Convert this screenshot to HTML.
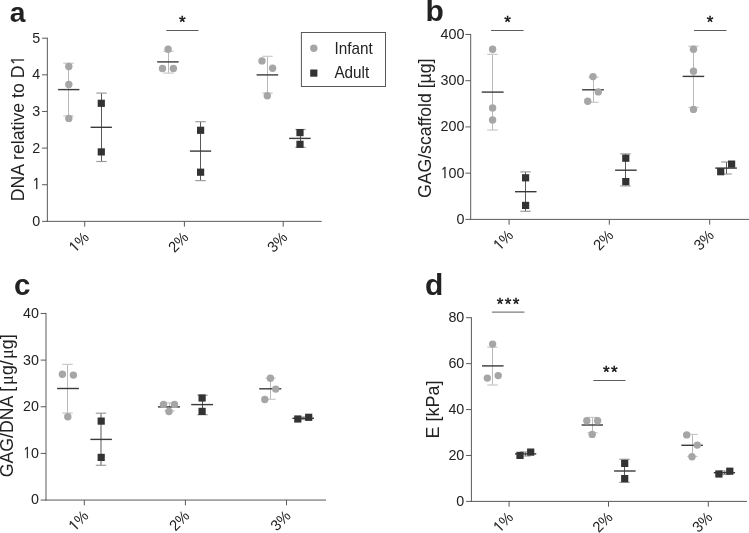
<!DOCTYPE html>
<html lang="en">
<head>
<meta charset="utf-8">
<title>Figure: DNA, GAG and modulus of infant vs adult scaffolds</title>
<style>
html,body{margin:0;padding:0;background:#fff;}
body{width:749px;height:533px;overflow:hidden;}
svg{display:block;font-family:"Liberation Sans",Arial,Helvetica,sans-serif;}
</style>
</head>
<body>
<svg width="749" height="533" viewBox="0 0 749 533">
<rect x="0" y="0" width="749" height="533" fill="#fff"/>
<g id="panel-a">
<text transform="translate(9.8,21.8) scale(1,1)" font-size="28.2" text-anchor="start" font-weight="bold" fill="#222">a</text>
<text transform="translate(23.7,128.4) rotate(-90) scale(1,1.04)" font-size="17.7" text-anchor="middle" fill="#222">DNA relative to D<tspan font-family="NanumGothic, Liberation Sans, sans-serif" font-size="16.39" stroke="#222" stroke-width="0.3">1</tspan></text>
<line x1="47.35" y1="37.7" x2="47.35" y2="221.85" stroke="#5a5a5a" stroke-width="1"/>
<line x1="46.85" y1="221.35" x2="321.7" y2="221.35" stroke="#5a5a5a" stroke-width="1"/>
<line x1="42.05" y1="38.2" x2="47.35" y2="38.2" stroke="#5a5a5a" stroke-width="1"/>
<text transform="translate(40.25,42.62) scale(1,1.04)" font-size="14.3" text-anchor="end" font-weight="normal" fill="#222">5</text>
<line x1="42.05" y1="74.83" x2="47.35" y2="74.83" stroke="#5a5a5a" stroke-width="1"/>
<text transform="translate(40.25,79.25) scale(1,1.04)" font-size="14.3" text-anchor="end" font-weight="normal" fill="#222">4</text>
<line x1="42.05" y1="111.46" x2="47.35" y2="111.46" stroke="#5a5a5a" stroke-width="1"/>
<text transform="translate(40.25,115.88) scale(1,1.04)" font-size="14.3" text-anchor="end" font-weight="normal" fill="#222">3</text>
<line x1="42.05" y1="148.09" x2="47.35" y2="148.09" stroke="#5a5a5a" stroke-width="1"/>
<text transform="translate(40.25,152.51) scale(1,1.04)" font-size="14.3" text-anchor="end" font-weight="normal" fill="#222">2</text>
<line x1="42.05" y1="184.72" x2="47.35" y2="184.72" stroke="#5a5a5a" stroke-width="1"/>
<text transform="translate(40.25,189.14) scale(1,1.04)" font-size="14.3" text-anchor="end" font-weight="normal" fill="#222"><tspan font-family="NanumGothic, Liberation Sans, sans-serif" font-size="13.24" stroke="#222" stroke-width="0.3">1</tspan></text>
<line x1="42.05" y1="221.35" x2="47.35" y2="221.35" stroke="#5a5a5a" stroke-width="1"/>
<text transform="translate(40.25,225.77) scale(1,1.04)" font-size="14.3" text-anchor="end" font-weight="normal" fill="#222">0</text>
<line x1="84.7" y1="221.35" x2="84.7" y2="226.65" stroke="#5a5a5a" stroke-width="1"/>
<text transform="translate(89.8,238.25) rotate(-45) scale(1,1.04)" font-size="14.600000000000001" text-anchor="end" fill="#222"><tspan font-family="NanumGothic, Liberation Sans, sans-serif" font-size="13.52" stroke="#222" stroke-width="0.3">1</tspan>%</text>
<line x1="184.4" y1="221.35" x2="184.4" y2="226.65" stroke="#5a5a5a" stroke-width="1"/>
<text transform="translate(189.5,238.25) rotate(-45) scale(1,1.04)" font-size="14.600000000000001" text-anchor="end" fill="#222">2%</text>
<line x1="283.2" y1="221.35" x2="283.2" y2="226.65" stroke="#5a5a5a" stroke-width="1"/>
<text transform="translate(288.3,238.25) rotate(-45) scale(1,1.04)" font-size="14.600000000000001" text-anchor="end" fill="#222">3%</text>
<line x1="68.5" y1="63.2" x2="68.5" y2="116" stroke="#b9b9b9" stroke-width="1"/>
<line x1="63.3" y1="63.2" x2="73.7" y2="63.2" stroke="#c9c9c9" stroke-width="1.2"/>
<line x1="63.3" y1="116" x2="73.7" y2="116" stroke="#c9c9c9" stroke-width="1.2"/>
<line x1="58.1" y1="89.6" x2="79.4" y2="89.6" stroke="#3a3a3a" stroke-width="1.4"/>
<circle cx="68.8" cy="66.5" r="3.7" fill="#a6a6a6"/>
<circle cx="68.8" cy="84.5" r="3.7" fill="#a6a6a6"/>
<circle cx="68.8" cy="118.4" r="3.7" fill="#a6a6a6"/>
<line x1="101.5" y1="93.1" x2="101.5" y2="161.5" stroke="#595959" stroke-width="1"/>
<line x1="96.3" y1="93.1" x2="106.7" y2="93.1" stroke="#9c9c9c" stroke-width="1.2"/>
<line x1="96.3" y1="161.5" x2="106.7" y2="161.5" stroke="#9c9c9c" stroke-width="1.2"/>
<line x1="90.6" y1="127.3" x2="111.9" y2="127.3" stroke="#3a3a3a" stroke-width="1.4"/>
<rect x="97.7" y="99.7" width="7.2" height="7.2" fill="#333"/>
<rect x="97.7" y="148.3" width="7.2" height="7.2" fill="#333"/>
<line x1="168.5" y1="51.3" x2="168.5" y2="73.1" stroke="#b9b9b9" stroke-width="1"/>
<line x1="163.3" y1="51.3" x2="173.7" y2="51.3" stroke="#c9c9c9" stroke-width="1.2"/>
<line x1="163.3" y1="73.1" x2="173.7" y2="73.1" stroke="#c9c9c9" stroke-width="1.2"/>
<line x1="157.2" y1="61.9" x2="178.7" y2="61.9" stroke="#3a3a3a" stroke-width="1.4"/>
<circle cx="168.1" cy="49.2" r="3.7" fill="#a6a6a6"/>
<circle cx="162.5" cy="68.5" r="3.7" fill="#a6a6a6"/>
<circle cx="173.4" cy="68.5" r="3.7" fill="#a6a6a6"/>
<line x1="200.5" y1="121.7" x2="200.5" y2="180.6" stroke="#595959" stroke-width="1"/>
<line x1="195.3" y1="121.7" x2="205.7" y2="121.7" stroke="#9c9c9c" stroke-width="1.2"/>
<line x1="195.3" y1="180.6" x2="205.7" y2="180.6" stroke="#9c9c9c" stroke-width="1.2"/>
<line x1="189.9" y1="151.1" x2="211.2" y2="151.1" stroke="#3a3a3a" stroke-width="1.4"/>
<rect x="197" y="126.7" width="7.2" height="7.2" fill="#333"/>
<rect x="197" y="168.6" width="7.2" height="7.2" fill="#333"/>
<line x1="267.5" y1="56.3" x2="267.5" y2="93.1" stroke="#b9b9b9" stroke-width="1"/>
<line x1="262.3" y1="56.3" x2="272.7" y2="56.3" stroke="#c9c9c9" stroke-width="1.2"/>
<line x1="262.3" y1="93.1" x2="272.7" y2="93.1" stroke="#c9c9c9" stroke-width="1.2"/>
<line x1="256.6" y1="74.9" x2="278.2" y2="74.9" stroke="#3a3a3a" stroke-width="1.4"/>
<circle cx="262" cy="60.9" r="3.7" fill="#a6a6a6"/>
<circle cx="272.6" cy="68.3" r="3.7" fill="#a6a6a6"/>
<circle cx="267.3" cy="95.7" r="3.7" fill="#a6a6a6"/>
<line x1="300.5" y1="129.5" x2="300.5" y2="147.3" stroke="#595959" stroke-width="1"/>
<line x1="295.3" y1="129.5" x2="305.7" y2="129.5" stroke="#9c9c9c" stroke-width="1.2"/>
<line x1="295.3" y1="147.3" x2="305.7" y2="147.3" stroke="#9c9c9c" stroke-width="1.2"/>
<line x1="289.1" y1="138.4" x2="310.7" y2="138.4" stroke="#3a3a3a" stroke-width="1.4"/>
<rect x="296.4" y="129" width="7.2" height="7.2" fill="#333"/>
<rect x="296.4" y="140.7" width="7.2" height="7.2" fill="#333"/>
<line x1="166.3" y1="30.5" x2="198.5" y2="30.5" stroke="#5c5c5c" stroke-width="1.0"/>
<text transform="translate(183,27.99) scale(1,1)" font-size="17" text-anchor="middle" font-weight="normal" fill="#111" letter-spacing="1.4" stroke="#111" stroke-width="0.4">*</text>
<rect x="301.4" y="32.5" width="84.1" height="54" fill="#fff" stroke="#585858" stroke-width="1"/>
<circle cx="313.8" cy="48.2" r="3.7" fill="#a6a6a6"/>
<rect x="310.2" y="69.5" width="7.2" height="7.2" fill="#333"/>
<text transform="translate(334.4,53.6) scale(1,1.04)" font-size="15.3" text-anchor="start" font-weight="normal" fill="#222">Infant</text>
<text transform="translate(334.4,78.2) scale(1,1.04)" font-size="15.3" text-anchor="start" font-weight="normal" fill="#222">Adult</text>
</g>
<g id="panel-b">
<text transform="translate(425.4,21.2) scale(1,1)" font-size="30" text-anchor="start" font-weight="bold" fill="#222">b</text>
<text transform="translate(431.2,128.3) rotate(-90) scale(1,1.04)" font-size="17.7" text-anchor="middle" fill="#222">GAG/scaffold [µg]</text>
<line x1="470.7" y1="33.95" x2="470.7" y2="219.9" stroke="#5a5a5a" stroke-width="1"/>
<line x1="470.2" y1="219.4" x2="749.5" y2="219.4" stroke="#5a5a5a" stroke-width="1"/>
<line x1="465.4" y1="34.45" x2="470.7" y2="34.45" stroke="#5a5a5a" stroke-width="1"/>
<text transform="translate(464.4,38.87) scale(1,1.04)" font-size="14.3" text-anchor="end" font-weight="normal" fill="#222">400</text>
<line x1="465.4" y1="80.69" x2="470.7" y2="80.69" stroke="#5a5a5a" stroke-width="1"/>
<text transform="translate(464.4,85.11) scale(1,1.04)" font-size="14.3" text-anchor="end" font-weight="normal" fill="#222">300</text>
<line x1="465.4" y1="126.92" x2="470.7" y2="126.92" stroke="#5a5a5a" stroke-width="1"/>
<text transform="translate(464.4,131.34) scale(1,1.04)" font-size="14.3" text-anchor="end" font-weight="normal" fill="#222">200</text>
<line x1="465.4" y1="173.16" x2="470.7" y2="173.16" stroke="#5a5a5a" stroke-width="1"/>
<text transform="translate(464.4,177.58) scale(1,1.04)" font-size="14.3" text-anchor="end" font-weight="normal" fill="#222"><tspan font-family="NanumGothic, Liberation Sans, sans-serif" font-size="13.24" stroke="#222" stroke-width="0.3">1</tspan>00</text>
<line x1="465.4" y1="219.4" x2="470.7" y2="219.4" stroke="#5a5a5a" stroke-width="1"/>
<text transform="translate(464.4,223.82) scale(1,1.04)" font-size="14.3" text-anchor="end" font-weight="normal" fill="#222">0</text>
<line x1="509.1" y1="219.4" x2="509.1" y2="224.7" stroke="#5a5a5a" stroke-width="1"/>
<text transform="translate(514.2,236.3) rotate(-45) scale(1,1.04)" font-size="14.600000000000001" text-anchor="end" fill="#222"><tspan font-family="NanumGothic, Liberation Sans, sans-serif" font-size="13.52" stroke="#222" stroke-width="0.3">1</tspan>%</text>
<line x1="609.3" y1="219.4" x2="609.3" y2="224.7" stroke="#5a5a5a" stroke-width="1"/>
<text transform="translate(614.4,236.3) rotate(-45) scale(1,1.04)" font-size="14.600000000000001" text-anchor="end" fill="#222">2%</text>
<line x1="709.7" y1="219.4" x2="709.7" y2="224.7" stroke="#5a5a5a" stroke-width="1"/>
<text transform="translate(714.8,236.3) rotate(-45) scale(1,1.04)" font-size="14.600000000000001" text-anchor="end" fill="#222">3%</text>
<line x1="492.5" y1="54.3" x2="492.5" y2="130" stroke="#b9b9b9" stroke-width="1"/>
<line x1="487.3" y1="54.3" x2="497.7" y2="54.3" stroke="#c9c9c9" stroke-width="1.2"/>
<line x1="487.3" y1="130" x2="497.7" y2="130" stroke="#c9c9c9" stroke-width="1.2"/>
<line x1="481.7" y1="92.1" x2="503.6" y2="92.1" stroke="#3a3a3a" stroke-width="1.4"/>
<circle cx="492.6" cy="49.2" r="3.7" fill="#a6a6a6"/>
<circle cx="492.6" cy="107.9" r="3.7" fill="#a6a6a6"/>
<circle cx="492.6" cy="120" r="3.7" fill="#a6a6a6"/>
<line x1="525.5" y1="171.9" x2="525.5" y2="211.3" stroke="#595959" stroke-width="1"/>
<line x1="520.3" y1="171.9" x2="530.7" y2="171.9" stroke="#9c9c9c" stroke-width="1.2"/>
<line x1="520.3" y1="211.3" x2="530.7" y2="211.3" stroke="#9c9c9c" stroke-width="1.2"/>
<line x1="515" y1="191.7" x2="536.5" y2="191.7" stroke="#3a3a3a" stroke-width="1.4"/>
<rect x="522" y="174.2" width="7.2" height="7.2" fill="#333"/>
<rect x="522" y="201.8" width="7.2" height="7.2" fill="#333"/>
<line x1="593.5" y1="77.3" x2="593.5" y2="102.3" stroke="#b9b9b9" stroke-width="1"/>
<line x1="588.3" y1="77.3" x2="598.7" y2="77.3" stroke="#c9c9c9" stroke-width="1.2"/>
<line x1="588.3" y1="102.3" x2="598.7" y2="102.3" stroke="#c9c9c9" stroke-width="1.2"/>
<line x1="582.1" y1="89.8" x2="603.9" y2="89.8" stroke="#3a3a3a" stroke-width="1.4"/>
<circle cx="593" cy="76.6" r="3.7" fill="#a6a6a6"/>
<circle cx="598.3" cy="91.9" r="3.7" fill="#a6a6a6"/>
<circle cx="587.7" cy="101.3" r="3.7" fill="#a6a6a6"/>
<line x1="625.5" y1="153.9" x2="625.5" y2="185.9" stroke="#595959" stroke-width="1"/>
<line x1="620.3" y1="153.9" x2="630.7" y2="153.9" stroke="#9c9c9c" stroke-width="1.2"/>
<line x1="620.3" y1="185.9" x2="630.7" y2="185.9" stroke="#9c9c9c" stroke-width="1.2"/>
<line x1="615.1" y1="170.2" x2="636.7" y2="170.2" stroke="#3a3a3a" stroke-width="1.4"/>
<rect x="622.2" y="154.6" width="7.2" height="7.2" fill="#333"/>
<rect x="622.2" y="178" width="7.2" height="7.2" fill="#333"/>
<line x1="693.5" y1="46.2" x2="693.5" y2="107.4" stroke="#b9b9b9" stroke-width="1"/>
<line x1="688.3" y1="46.2" x2="698.7" y2="46.2" stroke="#c9c9c9" stroke-width="1.2"/>
<line x1="688.3" y1="107.4" x2="698.7" y2="107.4" stroke="#c9c9c9" stroke-width="1.2"/>
<line x1="682.6" y1="76.4" x2="704.2" y2="76.4" stroke="#3a3a3a" stroke-width="1.4"/>
<circle cx="693.5" cy="49.2" r="3.7" fill="#a6a6a6"/>
<circle cx="693.5" cy="71.3" r="3.7" fill="#a6a6a6"/>
<circle cx="693.5" cy="109.4" r="3.7" fill="#a6a6a6"/>
<line x1="726.5" y1="162" x2="726.5" y2="174" stroke="#595959" stroke-width="1"/>
<line x1="721.3" y1="162" x2="731.7" y2="162" stroke="#9c9c9c" stroke-width="1.2"/>
<line x1="721.3" y1="174" x2="731.7" y2="174" stroke="#9c9c9c" stroke-width="1.2"/>
<line x1="715.3" y1="168.1" x2="736.9" y2="168.1" stroke="#3a3a3a" stroke-width="1.4"/>
<rect x="717.1" y="168.1" width="7.2" height="7.2" fill="#333"/>
<rect x="728" y="160.5" width="7.2" height="7.2" fill="#333"/>
<line x1="491.1" y1="30.5" x2="523.6" y2="30.5" stroke="#5c5c5c" stroke-width="1.0"/>
<text transform="translate(508.3,27.99) scale(1,1)" font-size="17" text-anchor="middle" font-weight="normal" fill="#111" letter-spacing="1.4" stroke="#111" stroke-width="0.4">*</text>
<line x1="694" y1="30.5" x2="726.5" y2="30.5" stroke="#5c5c5c" stroke-width="1.0"/>
<text transform="translate(710.7,27.99) scale(1,1)" font-size="17" text-anchor="middle" font-weight="normal" fill="#111" letter-spacing="1.4" stroke="#111" stroke-width="0.4">*</text>
</g>
<g id="panel-c">
<text transform="translate(13.9,294.6) scale(1,1)" font-size="29.5" text-anchor="start" font-weight="bold" fill="#222">c</text>
<text transform="translate(12.9,405.8) rotate(-90) scale(1,1.04)" font-size="17.7" text-anchor="middle" fill="#222">GAG/DNA [<tspan dx="1.8" font-family="Liberation Serif, serif" font-size="18.5">μ</tspan>g/<tspan dx="1.2" font-family="Liberation Serif, serif" font-size="18.5">μ</tspan>g]</text>
<line x1="46" y1="312.95" x2="46" y2="500.55" stroke="#5a5a5a" stroke-width="1"/>
<line x1="45.5" y1="500.05" x2="326" y2="500.05" stroke="#5a5a5a" stroke-width="1"/>
<line x1="40.7" y1="313.45" x2="46" y2="313.45" stroke="#5a5a5a" stroke-width="1"/>
<text transform="translate(38.9,317.87) scale(1,1.04)" font-size="14.3" text-anchor="end" font-weight="normal" fill="#222">40</text>
<line x1="40.7" y1="360.1" x2="46" y2="360.1" stroke="#5a5a5a" stroke-width="1"/>
<text transform="translate(38.9,364.52) scale(1,1.04)" font-size="14.3" text-anchor="end" font-weight="normal" fill="#222">30</text>
<line x1="40.7" y1="406.75" x2="46" y2="406.75" stroke="#5a5a5a" stroke-width="1"/>
<text transform="translate(38.9,411.17) scale(1,1.04)" font-size="14.3" text-anchor="end" font-weight="normal" fill="#222">20</text>
<line x1="40.7" y1="453.4" x2="46" y2="453.4" stroke="#5a5a5a" stroke-width="1"/>
<text transform="translate(38.9,457.82) scale(1,1.04)" font-size="14.3" text-anchor="end" font-weight="normal" fill="#222"><tspan font-family="NanumGothic, Liberation Sans, sans-serif" font-size="13.24" stroke="#222" stroke-width="0.3">1</tspan>0</text>
<line x1="40.7" y1="500.05" x2="46" y2="500.05" stroke="#5a5a5a" stroke-width="1"/>
<text transform="translate(38.9,504.47) scale(1,1.04)" font-size="14.3" text-anchor="end" font-weight="normal" fill="#222">0</text>
<line x1="84.3" y1="500.05" x2="84.3" y2="505.35" stroke="#5a5a5a" stroke-width="1"/>
<text transform="translate(89.4,516.95) rotate(-45) scale(1,1.04)" font-size="14.600000000000001" text-anchor="end" fill="#222"><tspan font-family="NanumGothic, Liberation Sans, sans-serif" font-size="13.52" stroke="#222" stroke-width="0.3">1</tspan>%</text>
<line x1="185.4" y1="500.05" x2="185.4" y2="505.35" stroke="#5a5a5a" stroke-width="1"/>
<text transform="translate(190.5,516.95) rotate(-45) scale(1,1.04)" font-size="14.600000000000001" text-anchor="end" fill="#222">2%</text>
<line x1="286.5" y1="500.05" x2="286.5" y2="505.35" stroke="#5a5a5a" stroke-width="1"/>
<text transform="translate(291.6,516.95) rotate(-45) scale(1,1.04)" font-size="14.600000000000001" text-anchor="end" fill="#222">3%</text>
<line x1="67.5" y1="364.4" x2="67.5" y2="413" stroke="#b9b9b9" stroke-width="1"/>
<line x1="62.3" y1="364.4" x2="72.7" y2="364.4" stroke="#c9c9c9" stroke-width="1.2"/>
<line x1="62.3" y1="413" x2="72.7" y2="413" stroke="#c9c9c9" stroke-width="1.2"/>
<line x1="57.1" y1="388.5" x2="78.9" y2="388.5" stroke="#3a3a3a" stroke-width="1.4"/>
<circle cx="62.4" cy="374.3" r="3.7" fill="#a6a6a6"/>
<circle cx="73.4" cy="375.1" r="3.7" fill="#a6a6a6"/>
<circle cx="67.8" cy="416.8" r="3.7" fill="#a6a6a6"/>
<line x1="101" y1="413.2" x2="101" y2="465.3" stroke="#595959" stroke-width="1"/>
<line x1="95.8" y1="413.2" x2="106.2" y2="413.2" stroke="#9c9c9c" stroke-width="1.2"/>
<line x1="95.8" y1="465.3" x2="106.2" y2="465.3" stroke="#9c9c9c" stroke-width="1.2"/>
<line x1="90.4" y1="439.4" x2="111.9" y2="439.4" stroke="#3a3a3a" stroke-width="1.4"/>
<rect x="97.6" y="417.5" width="7.2" height="7.2" fill="#333"/>
<rect x="97.6" y="453.8" width="7.2" height="7.2" fill="#333"/>
<line x1="169.5" y1="402.9" x2="169.5" y2="410.9" stroke="#b9b9b9" stroke-width="1"/>
<line x1="164.3" y1="402.9" x2="174.7" y2="402.9" stroke="#c9c9c9" stroke-width="1.2"/>
<line x1="164.3" y1="410.9" x2="174.7" y2="410.9" stroke="#c9c9c9" stroke-width="1.2"/>
<line x1="158" y1="406.9" x2="180" y2="406.9" stroke="#3a3a3a" stroke-width="1.4"/>
<circle cx="163.5" cy="404.4" r="3.7" fill="#a6a6a6"/>
<circle cx="174.5" cy="404.4" r="3.7" fill="#a6a6a6"/>
<circle cx="169" cy="411.5" r="3.7" fill="#a6a6a6"/>
<line x1="202.5" y1="395.2" x2="202.5" y2="414.7" stroke="#595959" stroke-width="1"/>
<line x1="197.3" y1="395.2" x2="207.7" y2="395.2" stroke="#9c9c9c" stroke-width="1.2"/>
<line x1="197.3" y1="414.7" x2="207.7" y2="414.7" stroke="#9c9c9c" stroke-width="1.2"/>
<line x1="191.2" y1="404.6" x2="213" y2="404.6" stroke="#3a3a3a" stroke-width="1.4"/>
<rect x="198.5" y="394.4" width="7.2" height="7.2" fill="#333"/>
<rect x="198.5" y="407.8" width="7.2" height="7.2" fill="#333"/>
<line x1="270.5" y1="378.2" x2="270.5" y2="399.3" stroke="#b9b9b9" stroke-width="1"/>
<line x1="265.3" y1="378.2" x2="275.7" y2="378.2" stroke="#c9c9c9" stroke-width="1.2"/>
<line x1="265.3" y1="399.3" x2="275.7" y2="399.3" stroke="#c9c9c9" stroke-width="1.2"/>
<line x1="259.2" y1="388.8" x2="281.3" y2="388.8" stroke="#3a3a3a" stroke-width="1.4"/>
<circle cx="270.4" cy="378.2" r="3.7" fill="#a6a6a6"/>
<circle cx="275.7" cy="389.1" r="3.7" fill="#a6a6a6"/>
<circle cx="264.8" cy="399.5" r="3.7" fill="#a6a6a6"/>
<line x1="303.5" y1="417" x2="303.5" y2="419.6" stroke="#595959" stroke-width="1"/>
<line x1="298.3" y1="417" x2="308.7" y2="417" stroke="#9c9c9c" stroke-width="1.2"/>
<line x1="298.3" y1="419.6" x2="308.7" y2="419.6" stroke="#9c9c9c" stroke-width="1.2"/>
<line x1="292.4" y1="418.3" x2="314" y2="418.3" stroke="#3a3a3a" stroke-width="1.4"/>
<rect x="294.2" y="415.4" width="7.2" height="7.2" fill="#333"/>
<rect x="305.1" y="413.7" width="7.2" height="7.2" fill="#333"/>
</g>
<g id="panel-d">
<text transform="translate(425,294.5) scale(1,1)" font-size="30" text-anchor="start" font-weight="bold" fill="#222">d</text>
<text transform="translate(438.9,409.6) rotate(-90) scale(1,1.04)" font-size="18" text-anchor="middle" fill="#222">E [kPa]</text>
<line x1="471.4" y1="317.2" x2="471.4" y2="501.9" stroke="#5a5a5a" stroke-width="1"/>
<line x1="470.9" y1="501.4" x2="747" y2="501.4" stroke="#5a5a5a" stroke-width="1"/>
<line x1="466.1" y1="317.7" x2="471.4" y2="317.7" stroke="#5a5a5a" stroke-width="1"/>
<text transform="translate(464.3,322.12) scale(1,1.04)" font-size="14.3" text-anchor="end" font-weight="normal" fill="#222">80</text>
<line x1="466.1" y1="363.62" x2="471.4" y2="363.62" stroke="#5a5a5a" stroke-width="1"/>
<text transform="translate(464.3,368.04) scale(1,1.04)" font-size="14.3" text-anchor="end" font-weight="normal" fill="#222">60</text>
<line x1="466.1" y1="409.55" x2="471.4" y2="409.55" stroke="#5a5a5a" stroke-width="1"/>
<text transform="translate(464.3,413.97) scale(1,1.04)" font-size="14.3" text-anchor="end" font-weight="normal" fill="#222">40</text>
<line x1="466.1" y1="455.47" x2="471.4" y2="455.47" stroke="#5a5a5a" stroke-width="1"/>
<text transform="translate(464.3,459.89) scale(1,1.04)" font-size="14.3" text-anchor="end" font-weight="normal" fill="#222">20</text>
<line x1="466.1" y1="501.4" x2="471.4" y2="501.4" stroke="#5a5a5a" stroke-width="1"/>
<text transform="translate(464.3,505.82) scale(1,1.04)" font-size="14.3" text-anchor="end" font-weight="normal" fill="#222">0</text>
<line x1="509.1" y1="501.4" x2="509.1" y2="506.7" stroke="#5a5a5a" stroke-width="1"/>
<text transform="translate(514.2,518.3) rotate(-45) scale(1,1.04)" font-size="14.600000000000001" text-anchor="end" fill="#222"><tspan font-family="NanumGothic, Liberation Sans, sans-serif" font-size="13.52" stroke="#222" stroke-width="0.3">1</tspan>%</text>
<line x1="608.5" y1="501.4" x2="608.5" y2="506.7" stroke="#5a5a5a" stroke-width="1"/>
<text transform="translate(613.6,518.3) rotate(-45) scale(1,1.04)" font-size="14.600000000000001" text-anchor="end" fill="#222">2%</text>
<line x1="708.3" y1="501.4" x2="708.3" y2="506.7" stroke="#5a5a5a" stroke-width="1"/>
<text transform="translate(713.4,518.3) rotate(-45) scale(1,1.04)" font-size="14.600000000000001" text-anchor="end" fill="#222">3%</text>
<line x1="492.5" y1="347.2" x2="492.5" y2="385" stroke="#b9b9b9" stroke-width="1"/>
<line x1="487.3" y1="347.2" x2="497.7" y2="347.2" stroke="#c9c9c9" stroke-width="1.2"/>
<line x1="487.3" y1="385" x2="497.7" y2="385" stroke="#c9c9c9" stroke-width="1.2"/>
<line x1="482" y1="365.9" x2="503.6" y2="365.9" stroke="#3a3a3a" stroke-width="1.4"/>
<circle cx="492.6" cy="344.1" r="3.7" fill="#a6a6a6"/>
<circle cx="487.3" cy="378.1" r="3.7" fill="#a6a6a6"/>
<circle cx="498.2" cy="375.6" r="3.7" fill="#a6a6a6"/>
<line x1="525.5" y1="452" x2="525.5" y2="456" stroke="#595959" stroke-width="1"/>
<line x1="520.3" y1="452" x2="530.7" y2="452" stroke="#9c9c9c" stroke-width="1.2"/>
<line x1="520.3" y1="456" x2="530.7" y2="456" stroke="#9c9c9c" stroke-width="1.2"/>
<line x1="515" y1="453.9" x2="536.3" y2="453.9" stroke="#3a3a3a" stroke-width="1.4"/>
<rect x="516.4" y="451.8" width="7.2" height="7.2" fill="#333"/>
<rect x="527.1" y="448.5" width="7.2" height="7.2" fill="#333"/>
<line x1="592.5" y1="417.4" x2="592.5" y2="432.8" stroke="#b9b9b9" stroke-width="1"/>
<line x1="587.3" y1="417.4" x2="597.7" y2="417.4" stroke="#c9c9c9" stroke-width="1.2"/>
<line x1="587.3" y1="432.8" x2="597.7" y2="432.8" stroke="#c9c9c9" stroke-width="1.2"/>
<line x1="581.6" y1="425" x2="603" y2="425" stroke="#3a3a3a" stroke-width="1.4"/>
<circle cx="586.8" cy="420.7" r="3.7" fill="#a6a6a6"/>
<circle cx="597.6" cy="420.7" r="3.7" fill="#a6a6a6"/>
<circle cx="592.2" cy="434.4" r="3.7" fill="#a6a6a6"/>
<line x1="624.5" y1="459.3" x2="624.5" y2="482.4" stroke="#595959" stroke-width="1"/>
<line x1="619.3" y1="459.3" x2="629.7" y2="459.3" stroke="#9c9c9c" stroke-width="1.2"/>
<line x1="619.3" y1="482.4" x2="629.7" y2="482.4" stroke="#9c9c9c" stroke-width="1.2"/>
<line x1="614.1" y1="471" x2="635.6" y2="471" stroke="#3a3a3a" stroke-width="1.4"/>
<rect x="621.1" y="459.8" width="7.2" height="7.2" fill="#333"/>
<rect x="621.1" y="475" width="7.2" height="7.2" fill="#333"/>
<line x1="692.5" y1="434.4" x2="692.5" y2="456.5" stroke="#b9b9b9" stroke-width="1"/>
<line x1="687.3" y1="434.4" x2="697.7" y2="434.4" stroke="#c9c9c9" stroke-width="1.2"/>
<line x1="687.3" y1="456.5" x2="697.7" y2="456.5" stroke="#c9c9c9" stroke-width="1.2"/>
<line x1="681.3" y1="445.3" x2="702.9" y2="445.3" stroke="#3a3a3a" stroke-width="1.4"/>
<circle cx="686.7" cy="434.9" r="3.7" fill="#a6a6a6"/>
<circle cx="697.3" cy="445.1" r="3.7" fill="#a6a6a6"/>
<circle cx="692" cy="456.8" r="3.7" fill="#a6a6a6"/>
<line x1="724.5" y1="471" x2="724.5" y2="474.5" stroke="#595959" stroke-width="1"/>
<line x1="719.3" y1="471" x2="729.7" y2="471" stroke="#9c9c9c" stroke-width="1.2"/>
<line x1="719.3" y1="474.5" x2="729.7" y2="474.5" stroke="#9c9c9c" stroke-width="1.2"/>
<line x1="713.8" y1="472.7" x2="735.1" y2="472.7" stroke="#3a3a3a" stroke-width="1.4"/>
<rect x="715.3" y="470.4" width="7.2" height="7.2" fill="#333"/>
<rect x="726.2" y="467.6" width="7.2" height="7.2" fill="#333"/>
<line x1="491.9" y1="312.1" x2="524.4" y2="312.1" stroke="#5c5c5c" stroke-width="1.0"/>
<text transform="translate(508.8,309.59) scale(1,1)" font-size="17" text-anchor="middle" font-weight="normal" fill="#111" letter-spacing="1.4" stroke="#111" stroke-width="0.4">***</text>
<line x1="593.3" y1="380.5" x2="625.5" y2="380.5" stroke="#5c5c5c" stroke-width="1.0"/>
<text transform="translate(611.1,377.99) scale(1,1)" font-size="17" text-anchor="middle" font-weight="normal" fill="#111" letter-spacing="1.4" stroke="#111" stroke-width="0.4">**</text>
</g>
</svg>
</body>
</html>
